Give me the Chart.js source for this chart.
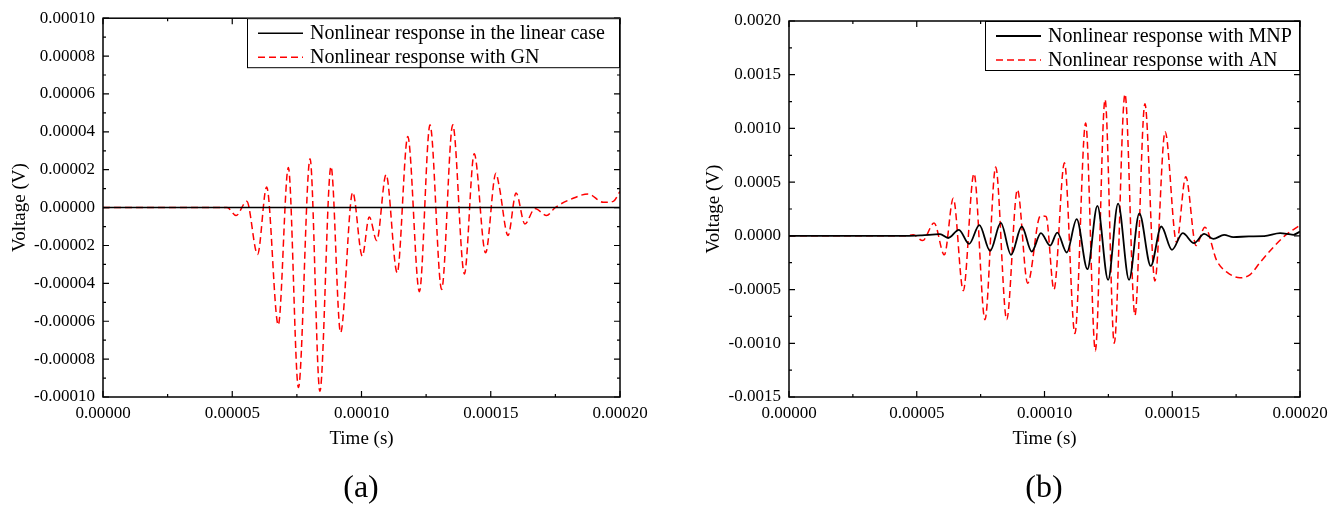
<!DOCTYPE html>
<html>
<head>
<meta charset="utf-8">
<script src="https://cdn.jsdelivr.net/npm/chart.js@4"></script>
<style>
  body { margin: 0; background: #fff; width: 1342px; height: 526px; position: relative; overflow: hidden; }
  .box { position: absolute; top: 0; width: 671px; height: 526px; }
  .tag { position: absolute; font-family: 'Liberation Serif', 'Times New Roman', serif; font-size: 32px; color: #000; transform: translate(-50%, -50%); }
</style>
</head>
<body>
<div class="box" style="left:0"><canvas id="chartA"></canvas></div>
<div class="box" style="left:671px"><canvas id="chartB"></canvas></div>
<div class="tag" style="left:361px; top:486px">(a)</div>
<div class="tag" style="left:1044px; top:486px">(b)</div>

<script>
// ---- data (time in s, voltage in V) ----

// (a) linear case: flat zero
const timeLinear = [0, 200e-6];
const voltLinear = [0, 0];

// (a) with GN
const timeGN = [0, 48e-6, 51.5e-6, 55.6e-6, 59.8e-6, 63.3e-6, 67.8e-6, 71.7e-6, 75.6e-6, 80.1e-6,
  83.9e-6, 88.2e-6, 91.9e-6, 96.6e-6, 100.3e-6, 103e-6, 105.9e-6, 109.5e-6, 113.8e-6, 117.9e-6,
  122.4e-6, 126.5e-6, 131e-6, 135.3e-6, 139.8e-6, 143.6e-6, 148e-6, 152e-6, 153.3e-6, 156.7e-6,
  159.8e-6, 163.2e-6, 167.1e-6, 171.6e-6, 174.9e-6, 181.3e-6, 187.7e-6, 193.5e-6, 197.4e-6, 200e-6];
const voltGN = [0, 0, -4.2e-6, 3.3e-6, -24.7e-6, 10.9e-6, -62e-6, 21.2e-6, -95e-6, 25.8e-6,
  -97e-6, 21.7e-6, -66e-6, 8.1e-6, -25.6e-6, -4.9e-6, -17.4e-6, 17.4e-6, -34.4e-6, 37.5e-6,
  -44.4e-6, 43.7e-6, -43.2e-6, 43.7e-6, -35e-6, 28.4e-6, -23.9e-6, 18.2e-6, 11e-6, -14.7e-6,
  7.7e-6, -8.6e-6, -0.5e-6, -4.2e-6, 0, 4.6e-6, 7.2e-6, 2.8e-6, 3.3e-6, 8.6e-6];

// (b) with MNP
const timeMNP = [0, 46e-6, 52e-6, 59.1e-6, 62.3e-6, 66.5e-6, 70.5e-6, 74.5e-6, 78.7e-6, 82.9e-6,
  86.9e-6, 91.1e-6, 95e-6, 98.6e-6, 102.2e-6, 105e-6, 108.7e-6, 112.6e-6, 116.8e-6, 120.7e-6,
  124.9e-6, 128.8e-6, 133.1e-6, 137.1e-6, 141.6e-6, 145.7e-6, 149.9e-6, 154.1e-6, 158.5e-6, 162.5e-6,
  166.1e-6, 170.3e-6, 173.9e-6, 180e-6, 186e-6, 192.2e-6, 197.4e-6, 200e-6];
const voltMNP = [0, 0, 0.05e-4, 0.16e-4, -0.2e-4, 0.56e-4, -0.75e-4, 1.0e-4, -1.4e-4, 1.2e-4,
  -1.77e-4, 0.87e-4, -1.46e-4, 0.25e-4, -0.9e-4, 0.3e-4, -1.55e-4, 1.55e-4, -3.1e-4, 2.8e-4,
  -4.1e-4, 3.0e-4, -4.1e-4, 2.1e-4, -2.8e-4, 0.87e-4, -1.3e-4, 0.25e-4, -0.68e-4, 0.19e-4,
  -0.28e-4, 0.09e-4, -0.12e-4, -0.05e-4, -0.03e-4, 0.25e-4, 0.1e-4, 0.4e-4];

// (b) with AN
const timeAN = [0, 46e-6, 48.6e-6, 52.3e-6, 56.8e-6, 60.8e-6, 64.3e-6, 68.2e-6, 72.4e-6, 76.7e-6,
  80.9e-6, 85.2e-6, 89.4e-6, 93.4e-6, 98.4e-6, 100.6e-6, 103.7e-6, 107.8e-6, 111.9e-6, 116.1e-6,
  119.9e-6, 123.7e-6, 127.3e-6, 131.5e-6, 135.4e-6, 139.3e-6, 143.2e-6, 147.2e-6, 151.7e-6, 155.3e-6,
  159.3e-6, 162.8e-6, 167.4e-6, 171.5e-6, 176.5e-6, 180.5e-6, 184.3e-6, 189.4e-6, 194e-6, 200e-6];
const voltAN = [0, 0, 0.1e-4, -0.44e-4, 1.2e-4, -1.77e-4, 3.5e-4, -5.1e-4, 5.8e-4, -7.8e-4,
  6.4e-4, -7.8e-4, 4.3e-4, -4.4e-4, 1.85e-4, 1.8e-4, -5.0e-4, 6.8e-4, -9.1e-4, 10.5e-4,
  -10.7e-4, 12.7e-4, -10.0e-4, 13.2e-4, -7.4e-4, 12.3e-4, -4.2e-4, 9.7e-4, -0.6e-4, 5.5e-4,
  -0.9e-4, 0.8e-4, -2.3e-4, -3.4e-4, -3.9e-4, -3.6e-4, -2.5e-4, -1.1e-4, 0, 1.0e-4];

const FONT = "'Liberation Serif', 'Times New Roman', serif";

function pairs(ts, vs) {
  return ts.map((t, i) => ({ x: t, y: vs[i] }));
}

function fmt(digits) {
  return v => (Math.abs(v) < 1e-12 ? 0 : v).toFixed(digits);
}

// box frame + inward ticks on all four sides
const frameTicks = {
  id: 'frameTicks',
  afterDatasetsDraw(chart) {
    const { ctx, chartArea: a, scales } = chart;
    ctx.save();
    ctx.strokeStyle = '#000';
    ctx.lineWidth = 1.5;
    ctx.strokeRect(a.left, a.top, a.right - a.left, a.bottom - a.top);
    ctx.lineWidth = 1.2;
    ctx.beginPath();
    const xv = scales.x.ticks.map(t => t.value);
    xv.forEach((v, i) => {
      const px = scales.x.getPixelForValue(v);
      ctx.moveTo(px, a.bottom); ctx.lineTo(px, a.bottom - 6);
      ctx.moveTo(px, a.top); ctx.lineTo(px, a.top + 6);
      if (i < xv.length - 1) {
        const pm = scales.x.getPixelForValue((v + xv[i + 1]) / 2);
        ctx.moveTo(pm, a.bottom); ctx.lineTo(pm, a.bottom - 3);
        ctx.moveTo(pm, a.top); ctx.lineTo(pm, a.top + 3);
      }
    });
    const yv = scales.y.ticks.map(t => t.value);
    yv.forEach((v, i) => {
      const py = scales.y.getPixelForValue(v);
      ctx.moveTo(a.left, py); ctx.lineTo(a.left + 6, py);
      ctx.moveTo(a.right, py); ctx.lineTo(a.right - 6, py);
      if (i < yv.length - 1) {
        const pm = scales.y.getPixelForValue((v + yv[i + 1]) / 2);
        ctx.moveTo(a.left, pm); ctx.lineTo(a.left + 3, pm);
        ctx.moveTo(a.right, pm); ctx.lineTo(a.right - 3, pm);
      }
    });
    ctx.stroke();
    ctx.restore();
  }
};

// boxed legend in the top right corner of the plot
const boxLegend = {
  id: 'boxLegend',
  afterDraw(chart, args, opts) {
    const { ctx, chartArea: a } = chart;
    const left = a.right - opts.width;
    const top = a.top;
    ctx.save();
    ctx.fillStyle = '#fff';
    ctx.fillRect(left, top, opts.width, opts.height);
    ctx.strokeStyle = '#000';
    ctx.lineWidth = 1;
    ctx.strokeRect(left + 0.5, top + 0.5, opts.width - 1, opts.height - 1);
    ctx.font = '20px ' + FONT;
    ctx.textBaseline = 'middle';
    chart.data.datasets.forEach((ds, i) => {
      const y = top + opts.rows[i];
      ctx.strokeStyle = ds.borderColor;
      ctx.lineWidth = ds.borderWidth;
      ctx.setLineDash(ds.borderDash || []);
      ctx.beginPath();
      ctx.moveTo(left + 11, y);
      ctx.lineTo(left + 56, y);
      ctx.stroke();
      ctx.setLineDash([]);
      ctx.fillStyle = '#000';
      ctx.fillText(ds.label, left + 63, y + 1);
    });
    ctx.restore();
  }
};

function makeChart(id, cfg) {
  return new Chart(document.getElementById(id), {
    type: 'line',
    data: {
      datasets: [
        {
          label: cfg.blackLabel,
          data: cfg.black,
          borderColor: '#000',
          borderWidth: cfg.blackWidth,
          pointRadius: 0,
          cubicInterpolationMode: 'monotone'
        },
        {
          label: cfg.redLabel,
          data: cfg.red,
          borderColor: '#ff0000',
          borderWidth: 1.5,
          borderDash: [7, 4],
          pointRadius: 0,
          cubicInterpolationMode: 'monotone'
        }
      ]
    },
    options: {
      responsive: true,
      maintainAspectRatio: false,
      animation: false,
      layout: { padding: { top: cfg.top, right: cfg.right, left: 0, bottom: 0 } },
      plugins: {
        legend: { display: false },
        tooltip: { enabled: false },
        boxLegend: { width: cfg.legendWidth, height: 50, rows: [15, 39] }
      },
      scales: {
        x: {
          type: 'linear',
          min: 0,
          max: 0.0002,
          grid: { display: false, drawTicks: false },
          border: { display: false },
          ticks: {
            stepSize: 0.00005,
            color: '#000',
            padding: 6,
            maxRotation: 0,
            font: { family: FONT, size: 17 },
            callback: fmt(5)
          },
          title: {
            display: true,
            text: 'Time (s)',
            color: '#000',
            font: { family: FONT, size: 19 },
            padding: { top: 0, bottom: 76 }
          },
          afterFit(scale) { scale.height = 129; }
        },
        y: {
          min: cfg.ymin,
          max: cfg.ymax,
          grid: { display: false, drawTicks: false },
          border: { display: false },
          ticks: {
            stepSize: cfg.ystep,
            color: '#000',
            padding: 8,
            font: { family: FONT, size: 17 },
            callback: fmt(cfg.ydigits)
          },
          title: {
            display: true,
            text: 'Voltage (V)',
            color: '#000',
            font: { family: FONT, size: 19 },
            padding: { top: cfg.ytitlePad, bottom: 0 }
          },
          afterFit(scale) { scale.width = cfg.left; }
        }
      }
    },
    plugins: [frameTicks, boxLegend]
  });
}

window.onload = function() {
  makeChart('chartA', {
    blackLabel: 'Nonlinear response in the linear case',
    redLabel: 'Nonlinear response with GN',
    black: pairs(timeLinear, voltLinear),
    red: pairs(timeGN, voltGN),
    blackWidth: 1.5,
    top: 18, right: 51, left: 103,
    ymin: -0.0001, ymax: 0.0001, ystep: 0.00002, ydigits: 5,
    ytitlePad: 9,
    legendWidth: 373
  });
  makeChart('chartB', {
    blackLabel: 'Nonlinear response with MNP',
    redLabel: 'Nonlinear response with AN',
    black: pairs(timeMNP, voltMNP),
    red: pairs(timeAN, voltAN),
    blackWidth: 1.8,
    top: 21, right: 42, left: 118,
    ymin: -0.0015, ymax: 0.002, ystep: 0.0005, ydigits: 4,
    ytitlePad: 32,
    legendWidth: 315
  });
};
</script>
</body>
</html>
